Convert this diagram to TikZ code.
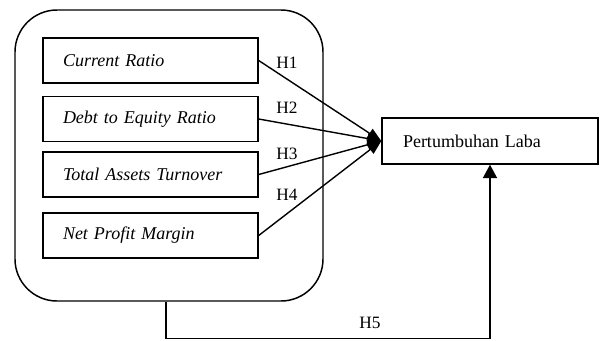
\documentclass[tikz,border=0pt]{standalone}
\usepackage{fontspec}
\setmainfont{Liberation Serif}
\usetikzlibrary{arrows.meta}
\begin{document}
\begin{tikzpicture}[x=0.75pt,y=-0.75pt,
  line width=1.05pt,
  varbox/.style={draw, line width=1.05pt, minimum width=161.25pt, minimum height=33.75pt,
    text width=131.25pt, inner xsep=15pt, align=left,
    font=\fontsize{13.5}{16}\selectfont\itshape},
  depbox/.style={draw, line width=1.05pt, minimum width=162pt, minimum height=34.5pt,
    text width=130.5pt, inner xsep=15.75pt, align=left,
    font=\fontsize{13.5}{16}\selectfont},
  grpbox/.style={draw, line width=1.1pt, rectangle, rounded corners=31.5pt,
    minimum width=231pt, minimum height=218.25pt},
  harr/.style={-{Triangle[length=10.5pt,width=8pt]}},
  varr/.style={-{Triangle[length=10pt,width=10.5pt]}},
  hlab/.style={font=\fontsize{13}{15}\selectfont, inner sep=0pt}]
\useasboundingbox (0,0) rectangle (600,340);
\node[grpbox] (grp) at (169,155.5) {};
\node[varbox] (b1) at (150.5,60.5) {Current Ratio};
\node[varbox] (b2) at (150.5,119) {Debt to Equity Ratio};
\node[varbox] (b3) at (150.5,174.5) {Total Assets Turnover};
\node[varbox] (b4) at (150.5,235.5) {Net Profit Margin};
\node[depbox] (pl) at (490,141) {Pertumbuhan Laba};
\draw[harr] (b1.east) -- (pl.west);
\draw[harr] (b2.east) -- (pl.west);
\draw[harr] (b3.east) -- (pl.west);
\draw[harr] (b4.east) -- (pl.west);
\node[hlab] (h1) at (287,63) {H1};
\node[hlab] (h2) at (287,108) {H2};
\node[hlab] (h3) at (287,154) {H3};
\node[hlab] (h4) at (287,195) {H4};
\draw[varr] ([xshift=-2.25pt]grp.south) -- ++(0,37) -| (pl.south);
\node[hlab] (h5) at (370,323) {H5};
\end{tikzpicture}
\end{document}
